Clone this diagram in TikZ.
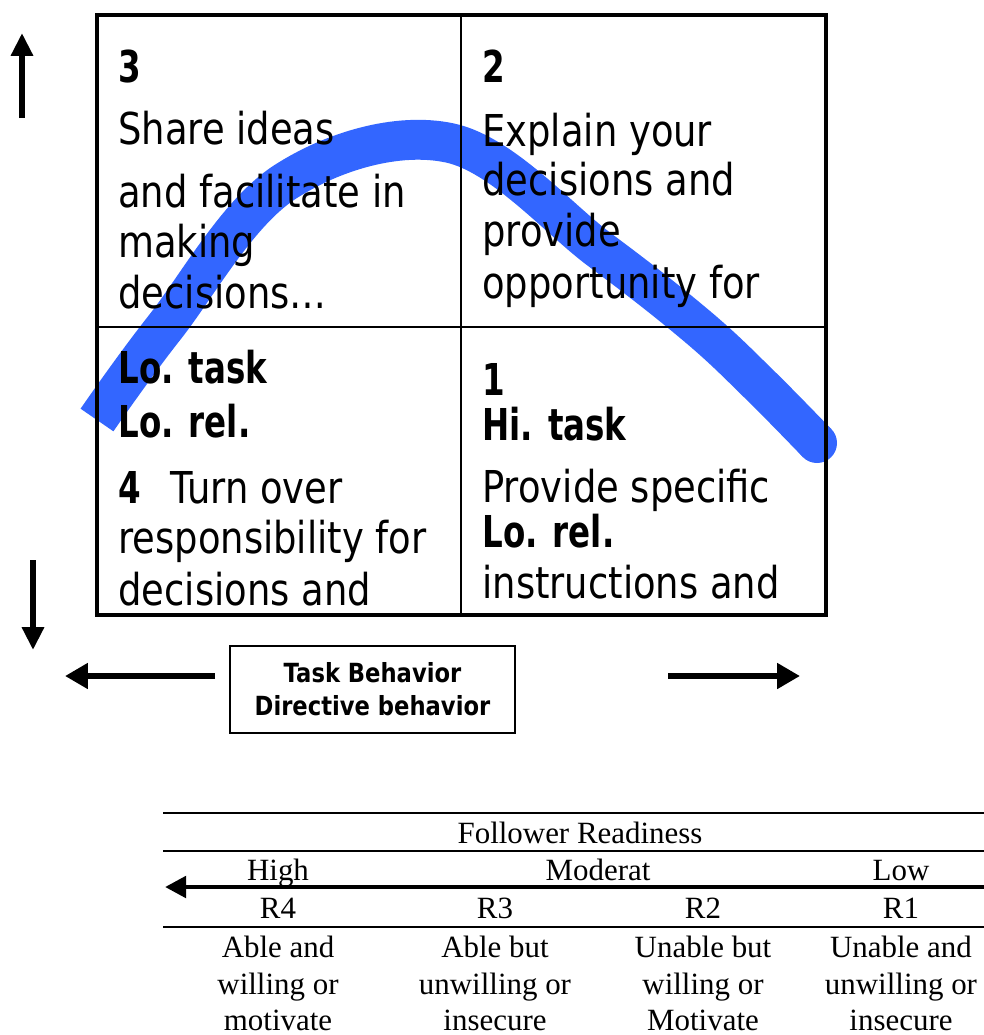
\documentclass[tikz,border=0pt]{standalone}
\usepackage{fontspec}
\setmainfont{DejaVu Sans}[UprightFeatures={FakeStretch=0.84}, BoldFeatures={FakeStretch=0.74}]
\newfontfamily\boxfont{DejaVu Sans}[FakeStretch=0.86]
\newfontfamily\tabfont{Liberation Serif}
\usepackage{tikz}
\usetikzlibrary{arrows.meta}
\definecolor{curveblue}{RGB}{51,102,255}
\tikzset{quadText/.style={anchor=base west, inner sep=0pt, font=\fontsize{25}{30}\selectfont}}
\tikzset{quadBold/.style={anchor=base west, inner sep=0pt, font=\fontsize{25}{30}\selectfont\bfseries}}
\tikzset{tabText/.style={anchor=base, inner sep=0pt, font=\tabfont\fontsize{17.6}{20.7}\selectfont}}
\tikzset{tabCell/.style={anchor=north, inner sep=0pt, align=center, font=\tabfont\fontsize{17.6}{20.7}\selectfont}}
\tikzset{bigArrow/.style={line width=3.4pt, -{Triangle[length=13pt,width=12pt]}}}
\tikzset{wideArrow/.style={line width=3.8pt, -{Triangle[length=13pt,width=14pt]}}}
\tikzset{tabRule/.style={line width=1.6pt}}

\begin{document}
\begin{tikzpicture}[x=0.02cm, y=-0.02cm]
\useasboundingbox (0,0) rectangle (984,1035);

% the leadership curve, under the grid
\draw[curveblue, line width=22.7pt, line cap=butt] plot[smooth, tension=0.6] coordinates
  {(97,420) (165,327) (285,182) (450,143) (600,250) (698,327) (760,385) (817,443)};
\fill[curveblue] (817,443) circle (20);

% grid
\draw[line width=2.55pt] (97,15) rectangle (826,615);
\draw[line width=1.4pt] (461,15) -- (461,615);
\draw[line width=1.4pt] (97,327) -- (826,327);

% quadrant 3
\node[quadBold] (q3num) at (118,82) {3};
\node[quadText] (q3a) at (118,144) {Share ideas};
\node[quadText] (q3b) at (118,207) {and facilitate in};
\node[quadText] (q3c) at (118,257) {making};
\node[quadText] (q3d) at (118,308) {decisions…};

% quadrant 2
\node[quadBold] (q2num) at (482,82) {2};
\node[quadText] (q2a) at (482,146) {Explain your};
\node[quadText] (q2b) at (482,195) {decisions and};
\node[quadText] (q2c) at (482,246) {provide};
\node[quadText] (q2d) at (482,298) {opportunity for};

% quadrant 4
\node[quadBold] (q4a) at (118,383) {Lo. task};
\node[quadBold] (q4b) at (118,437) {Lo. rel.};
\node[quadText] (q4c) at (118,503) {{\bfseries 4}\hspace{10pt} Turn over};
\node[quadText] (q4d) at (118,553) {responsibility for};
\node[quadText] (q4e) at (118,605) {decisions and};

% quadrant 1
\node[quadBold] (q1num) at (482,395) {1};
\node[quadBold] (q1a) at (482,440) {Hi. task};
\node[quadText] (q1b) at (482,502) {Provide specific};
\node[quadBold] (q1c) at (482,547) {Lo. rel.};
\node[quadText] (q1d) at (482,598) {instructions and};

% vertical axis arrows
\coordinate (upTail) at (22,118);
\coordinate (upTip) at (22,33);
\coordinate (downTail) at (33,560);
\coordinate (downTip) at (33,650);
\draw[bigArrow] (upTail) -- (upTip);
\draw[bigArrow] (downTail) -- (downTip);

% horizontal axis
\node[draw, line width=0.85pt, minimum width=5.7cm, minimum height=1.74cm, align=center,
  font=\boxfont\fontsize{15}{18.7}\selectfont\bfseries] (taskBox) at (372.5,689.5) {Task Behavior\\Directive behavior};
\coordinate (leftTail) at (215,676);
\coordinate (leftTip) at (65,676);
\coordinate (rightTail) at (668,676);
\coordinate (rightTip) at (800,676);
\draw[wideArrow] (leftTail) -- (leftTip);
\draw[wideArrow] (rightTail) -- (rightTip);

% readiness table
\draw[tabRule] (163,813) -- (984,813);
\draw[tabRule] (163,851) -- (984,851);
\draw[tabRule] (163,927) -- (984,927);
\node[tabText] (readiness) at (580,843) {Follower Readiness};
\node[tabText] (high) at (278,880) {High};
\node[tabText] (moderat) at (598,880) {Moderat};
\node[tabText] (low) at (901,880) {Low};
\coordinate (readyTail) at (984,887);
\coordinate (readyTip) at (165,887);
\draw[line width=2.8pt, -{Triangle[length=12pt,width=12pt]}] (readyTail) -- (readyTip);
\node[tabText] (r4) at (278,918) {R4};
\node[tabText] (r3) at (495,918) {R3};
\node[tabText] (r2) at (703,918) {R2};
\node[tabText] (r1) at (901,918) {R1};
\node[tabCell] (c4) at (278,936) {Able and\\willing or\\motivate};
\node[tabCell] (c3) at (495,936) {Able but\\unwilling or\\insecure};
\node[tabCell] (c2) at (703,936) {Unable but\\willing or\\Motivate};
\node[tabCell] (c1) at (901,936) {Unable and\\unwilling or\\insecure};

\end{tikzpicture}
\end{document}
